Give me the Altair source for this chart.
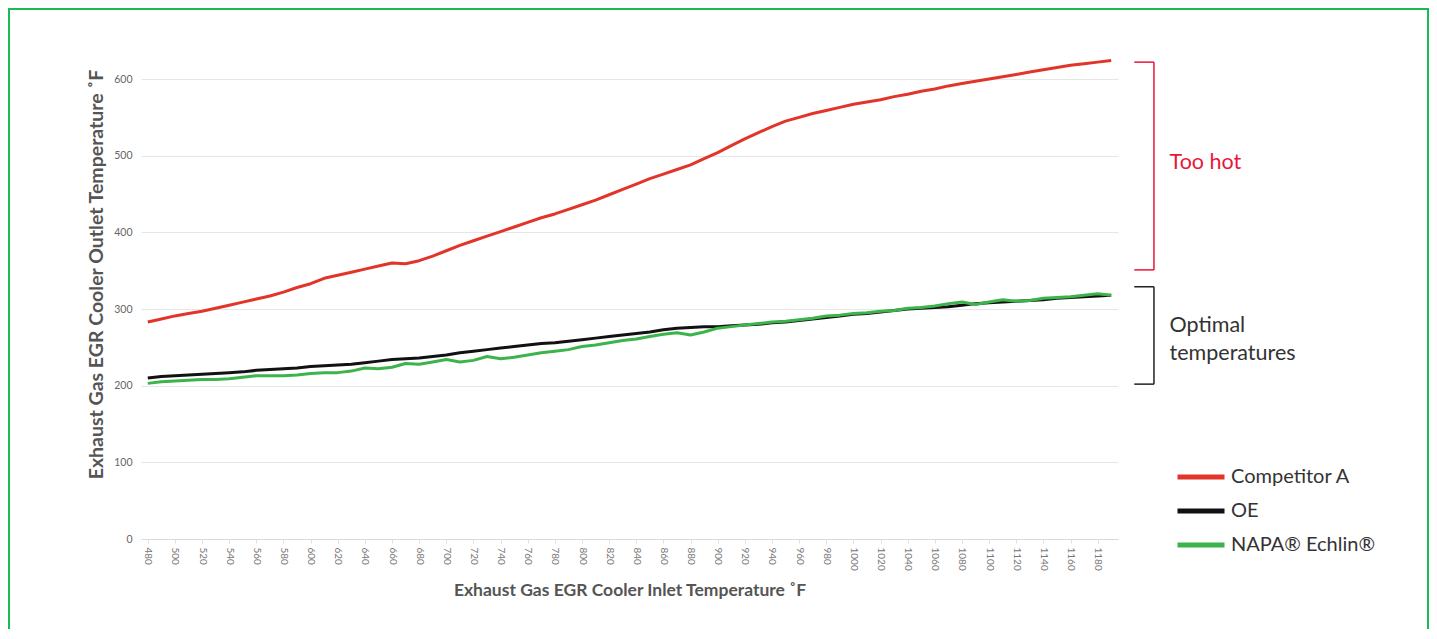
import altair as alt
import pandas as pd

# ---------------- data ----------------
temps = list(range(480, 1200, 10))

competitor_a = [283, 287, 291, 294, 297, 301, 305, 309, 313, 317,
                322, 328, 333, 340, 344, 348, 352, 356, 360, 359,
                363, 369, 376, 383, 389, 395, 401, 407, 413, 419,
                424, 430, 436, 442, 449, 456, 463, 470, 476, 482,
                488, 496, 504, 513, 522, 530, 538, 545, 550, 555,
                559, 563, 567, 570, 573, 577, 580, 584, 587, 591,
                594, 597, 600, 603, 606, 609, 612, 615, 618, 620,
                622, 624]

oe = [210, 212, 213, 214, 215, 216, 217, 218, 220, 221,
      222, 223, 225, 226, 227, 228, 230, 232, 234, 235,
      236, 238, 240, 243, 245, 247, 249, 251, 253, 255,
      256, 258, 260, 262, 264, 266, 268, 270, 273, 275,
      276, 277, 277, 278, 279, 280, 282, 283, 285, 287,
      289, 291, 293, 294, 296, 298, 300, 301, 302, 303,
      305, 307, 308, 309, 310, 311, 312, 314, 315, 316,
      317, 318]

napa = [203, 205, 206, 207, 208, 208, 209, 211, 213, 213,
        213, 214, 216, 217, 217, 219, 223, 222, 224, 229,
        228, 231, 234, 231, 233, 238, 235, 237, 240, 243,
        245, 247, 251, 253, 256, 259, 261, 264, 267, 269,
        266, 270, 275, 277, 279, 281, 283, 284, 286, 288,
        291, 292, 294, 295, 297, 298, 301, 302, 304, 307,
        309, 306, 309, 312, 310, 311, 314, 315, 316, 318,
        320, 318]

series = ["Competitor A", "OE", "NAPA® Echlin®"]
colors = ["#e3342a", "#111111", "#3cb44b"]

x_ticks = list(range(480, 1181, 20))
y_ticks = [0, 100, 200, 300, 400, 500, 600]

# annotation brackets (data coordinates)
br_names = ["hot", "optimal"]
br_colors = ["#e8173a", "#222222"]
br_top = [622, 329]
br_bottom = [351, 202]
br_x = 1221.5
br_tick_x = 1207

notes_text = ["Too hot", "Optimal", "temperatures"]
notes_y = [491, 278, 241]
notes_color = ["#e8173a", "#333333", "#333333"]
notes_x = 1233

# ---------------- tables ----------------
rows = []
for name, vals in zip(series, [competitor_a, oe, napa]):
    for t, v in zip(temps, vals):
        rows.append({"temp": t, "value": v, "series": name})
df = pd.DataFrame(rows)

br_v = pd.DataFrame({"name": br_names, "top": br_top, "bottom": br_bottom,
                     "x": [br_x] * 2, "x0": [br_tick_x] * 2, "color": br_colors})
br_h = pd.DataFrame({
    "name": br_names * 2,
    "y": br_top + br_bottom,
    "x": [br_x] * 4,
    "x0": [br_tick_x] * 4,
    "color": br_colors * 2,
})
notes = pd.DataFrame({"text": notes_text, "y": notes_y, "x": [notes_x] * 3,
                      "color": notes_color})

FONT = "Lato"
x_scale = alt.Scale(domain=[475, 1195], nice=False, zero=False)
y_scale = alt.Scale(domain=[0, 600], nice=False)

x_axis = alt.Axis(values=x_ticks, labelAngle=90, grid=False, format="d",
                  title="Exhaust Gas EGR Cooler Inlet Temperature ˚F",
                  titleFont=FONT, titleFontSize=17.5, titleFontWeight="bold",
                  titleColor="#555555", titlePadding=11,
                  labelFont=FONT, labelFontSize=10, labelColor="#777777",
                  labelPadding=4, domainColor="#d9d9d9", tickColor="#e0e0e0",
                  tickSize=4, labelFlush=False, labelOverlap=False,
                  labelSeparation=0, labelAlign="left", labelBaseline="middle")
y_axis = alt.Axis(values=y_ticks, grid=True, gridColor="#e6e6e6",
                  domain=False, ticks=False,
                  title="Exhaust Gas EGR Cooler Outlet Temperature ˚F",
                  titleFont=FONT, titleFontSize=19.5, titleFontWeight="bold",
                  titleColor="#555555", titleBaseline="middle",
                  titleX=-45, titleY=195, titleAngle=270,
                  labelFont=FONT, labelFontSize=10.5, labelColor="#666666",
                  labelPadding=9)

lines = alt.Chart(df).mark_line(strokeWidth=3, strokeJoin="round").encode(
    x=alt.X("temp:Q", scale=x_scale, axis=x_axis),
    y=alt.Y("value:Q", scale=y_scale, axis=y_axis),
    color=alt.Color("series:N", sort=series,
                    scale=alt.Scale(domain=series, range=colors),
                    legend=alt.Legend(orient="none", legendX=1034, legendY=389,
                                      title=None, symbolType="stroke",
                                      symbolStrokeWidth=5, symbolSize=2209,
                                      labelFont=FONT, labelFontSize=20,
                                      labelColor="#333333", rowPadding=14,
                                      clipHeight=18, labelOffset=4, padding=0)),
    order=alt.Order("series_order:Q"),
).transform_calculate(
    series_order="indexof(['Competitor A','OE','NAPA® Echlin®'], datum.series)"
)

vert = alt.Chart(br_v).mark_rule(strokeWidth=1.5).encode(
    x=alt.X("x:Q", scale=x_scale, axis=x_axis),
    y=alt.Y("top:Q", scale=y_scale, axis=y_axis), y2="bottom:Q",
    color=alt.Color("color:N", scale=None),
)
horiz = alt.Chart(br_h).mark_rule(strokeWidth=1.5).encode(
    x=alt.X("x0:Q", scale=x_scale, axis=x_axis), x2="x:Q",
    y=alt.Y("y:Q", scale=y_scale, axis=y_axis),
    color=alt.Color("color:N", scale=None),
)
texts = alt.Chart(notes).mark_text(align="left", baseline="middle", font=FONT,
                                   fontSize=21.5).encode(
    x=alt.X("x:Q", scale=x_scale, axis=x_axis),
    y=alt.Y("y:Q", scale=y_scale, axis=y_axis),
    text="text:N", color=alt.Color("color:N", scale=None),
)
border = alt.Chart(pd.DataFrame({"k": [0]})).mark_rect(
    fill=None, stroke="#1db954", strokeWidth=2).encode(
    x=alt.value(-132), x2=alt.value(1287), y=alt.value(-70), y2=alt.value(700),
)

chart = alt.layer(border, lines, vert, horiz, texts).properties(
    width=977, height=460,
    autosize=alt.AutoSizeParams(type="none"),
    padding={"left": 133, "top": 71, "right": 311, "bottom": 90},
    background="white",
).configure_view(stroke=None).configure_axisX(labelOverlap=False).resolve_scale(
    color="independent")

chart.save("out.html", embed_options={"renderer": "svg", "actions": False})
